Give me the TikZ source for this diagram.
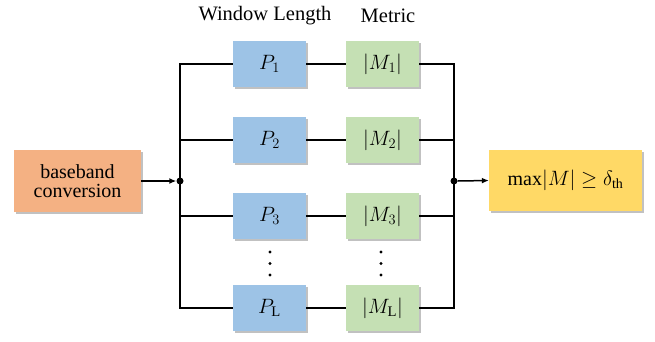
\documentclass[tikz,border=0pt]{standalone}
\usepackage{fontspec}
\setmainfont{Liberation Serif}
\usetikzlibrary{shadows,arrows.meta}
\definecolor{pblue}{HTML}{9DC3E6}
\definecolor{mgreen}{HTML}{C5E0B4}
\definecolor{borange}{HTML}{F4B183}
\definecolor{dyellow}{HTML}{FFD966}
\tikzset{
  box/.style={minimum width=73pt, minimum height=46pt, inner sep=0pt,
    drop shadow={shadow xshift=1.5pt, shadow yshift=-1.5pt, opacity=0.35, fill=black!70},
    font=\fontsize{21}{23}\selectfont},
  pbox/.style={box, fill=pblue},
  mbox/.style={box, fill=mgreen},
  wire/.style={line width=1.5pt, black},
  arr/.style={wire, -{Latex[length=7pt,width=6pt]}},
  jdot/.style={circle, fill=black, inner sep=0pt, minimum size=7pt},
  hdr/.style={font=\fontsize{20.5}{23}\selectfont},
  vdot/.style={circle, fill=black, inner sep=0pt, minimum size=3.2pt}
}
\begin{document}
\begin{tikzpicture}[x=1pt,y=-1pt]
\useasboundingbox (0,0) rectangle (655,341);
\node[hdr] (hw) at (265,16) {Window Length};
\node[hdr] (hm) at (388,16) {Metric};

\node[box, fill=borange, minimum width=127pt, minimum height=62pt, font=\fontsize{20}{22}\selectfont, align=center] (bb) at (77.5,181) {baseband\\[-3pt]conversion};
\node[box, fill=dyellow, minimum width=153pt, minimum height=61pt, font=\fontsize{20}{22}\selectfont] (mx) at (565.5,180.5) {$\mathrm{max}|M|\geq\delta_{\mathrm{th}}$};

\node[pbox] (p1) at (269.5,64) {$P_1$};
\node[pbox] (p2) at (269.5,140) {$P_2$};
\node[pbox] (p3) at (269.5,216) {$P_3$};
\node[pbox] (pl) at (269.5,308) {$P_{\mathrm{L}}$};
\node[mbox] (m1) at (382.5,64) {$|M_1|$};
\node[mbox] (m2) at (382.5,140) {$|M_2|$};
\node[mbox] (m3) at (382.5,216) {$|M_3|$};
\node[mbox] (ml) at (382.5,308) {$|M_{\mathrm{L}}|$};

\foreach \yy in {252,263.5,275} {
  \node[vdot] at (270,\yy) {};
  \node[vdot] at (381,\yy) {};
}

\coordinate (jl) at (180,181);
\coordinate (jr) at (454,181);

\draw[wire] (p1.west) -| (jl) |- (pl.west);
\draw[wire] (jl) |- (p2.west);
\draw[wire] (jl) |- (p3.west);
\draw[wire] (m1.east) -| (jr) |- (ml.east);
\draw[wire] (jr) |- (m2.east);
\draw[wire] (jr) |- (m3.east);
\draw[wire] (p1) -- (m1);
\draw[wire] (p2) -- (m2);
\draw[wire] (p3) -- (m3);
\draw[wire] (pl) -- (ml);

\node[jdot] (dl) at (jl) {};
\node[jdot] (dr) at (jr) {};
\draw[arr] (bb.east) -- (dl.west);
\draw[arr] (dr.east) -- (mx.west);
\end{tikzpicture}
\end{document}
